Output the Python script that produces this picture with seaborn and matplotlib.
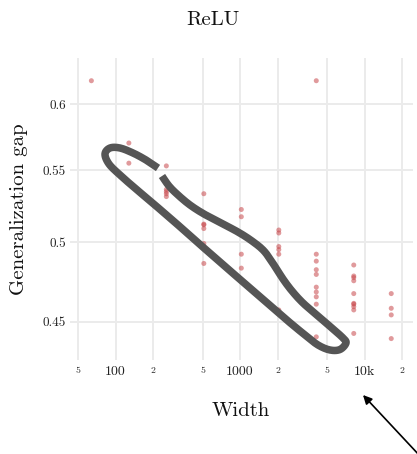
import numpy as np
import pandas as pd
import matplotlib
matplotlib.use("Agg")
import matplotlib.pyplot as plt
import matplotlib.ticker as mticker
import matplotlib.transforms as mtransforms
import seaborn as sns

# ---------------- data ----------------
width_levels = [64, 128, 256, 512, 1024, 2048, 4096, 8192, 16384]
gap_64 = [0.619]
gap_128 = [0.570, 0.555]
gap_256 = [0.553, 0.536, 0.5345, 0.533, 0.531, 0.519]
gap_512 = [0.533, 0.512, 0.5115, 0.509, 0.499, 0.486]
gap_1024 = [0.522, 0.517, 0.492, 0.483]
gap_2048 = [0.508, 0.506, 0.497, 0.495, 0.492, 0.457]
gap_4096 = [0.619, 0.492, 0.4875, 0.482, 0.479, 0.471, 0.468, 0.465, 0.4605, 0.441]
gap_8192 = [0.485, 0.478, 0.477, 0.475, 0.467, 0.461, 0.4605, 0.459, 0.457, 0.443]
gap_16384 = [0.467, 0.458, 0.454, 0.440]
gap_columns = [gap_64, gap_128, gap_256, gap_512, gap_1024, gap_2048,
               gap_4096, gap_8192, gap_16384]

x_major_ticks = [100, 1000, 10000]
x_major_labels = ["100", "1000", "10k"]
x_minor_ticks = [50, 200, 500, 2000, 5000, 20000]
x_minor_labels = ["5", "2", "5", "2", "5", "2"]
y_ticks = [0.45, 0.5, 0.55, 0.6]
y_labels = ["0.45", "0.5", "0.55", "0.6"]

title_text = "ReLU"
x_title = "Width"
y_title = "Generalization gap"

# hand-drawn annotation loop (figure pixel coordinates, origin top-left)
loop_px_x = [158, 146, 133, 120, 110, 105, 109, 120, 136, 152, 170, 186, 200,
             220, 243, 265, 288, 305, 318, 330, 340, 346, 343, 333, 318, 303,
             292, 283, 274, 264, 252, 238, 221, 204, 190, 178, 169, 162]
loop_px_y = [168, 160, 153, 148, 148, 154, 164, 175, 189, 202.5, 218, 232, 244.5,
             262, 282, 301, 321, 335, 345, 350, 349.5, 343, 338, 329, 316, 303,
             291, 279, 265, 251, 241, 232, 223, 214, 205, 195, 186, 176]

# ---------------- frame ----------------
rows = []
for w, gaps in zip(width_levels, gap_columns):
    for g in gaps:
        rows.append({"Width": w, "Gap": g})
df = pd.DataFrame(rows)

sns.set_theme(style="white")
plt.rcParams["font.family"] = ["cmr10", "DejaVu Serif"]
plt.rcParams["axes.unicode_minus"] = False

W, H = 417, 454
fig = plt.figure(figsize=(W / 100, H / 100), dpi=100)
fig.patch.set_facecolor("white")

ax_l, ax_r, ax_t, ax_b = 70, 413, 58, 360
ax = fig.add_axes([ax_l / W, 1 - ax_b / H, (ax_r - ax_l) / W, (ax_b - ax_t) / H])

sns.scatterplot(data=df, x="Width", y="Gap", ax=ax, color="#c8474b",
                alpha=0.55, s=13, edgecolor="none", linewidth=0, legend=False,
                zorder=3)

ax.set_xscale("log")
ax.set_yscale("log")
ax.set_xlim(43.1, 24500)
ax.set_ylim(0.4277, 0.6379)

ax.xaxis.set_major_locator(mticker.FixedLocator(x_major_ticks))
ax.xaxis.set_major_formatter(mticker.FixedFormatter(x_major_labels))
ax.xaxis.set_minor_locator(mticker.FixedLocator(x_minor_ticks))
ax.xaxis.set_minor_formatter(mticker.FixedFormatter(x_minor_labels))
ax.yaxis.set_major_locator(mticker.FixedLocator(y_ticks))
ax.yaxis.set_major_formatter(mticker.FixedFormatter(y_labels))
ax.yaxis.set_minor_locator(mticker.NullLocator())

ax.tick_params(axis="x", which="major", length=0, pad=4.5, labelsize=10,
               labelcolor="#222222")
ax.tick_params(axis="x", which="minor", length=0, pad=4.5, labelsize=7,
               labelcolor="#222222")
ax.tick_params(axis="y", which="major", length=0, pad=3, labelsize=9.5,
               labelcolor="#222222")

ax.grid(which="both", axis="x", color="#ebebeb", linewidth=1.4, zorder=0)
ax.grid(which="major", axis="y", color="#ebebeb", linewidth=1.4, zorder=0)
ax.set_axisbelow(True)
for sp in ax.spines.values():
    sp.set_visible(False)
ax.set_xlabel("")
ax.set_ylabel("")

fig.text(213 / W, 1 - 20 / H, title_text, ha="center", va="center",
         fontsize=15, color="#111111")
fig.text(241 / W, 1 - 411 / H, x_title, ha="center", va="center",
         fontsize=15, color="#111111")
fig.text(19 / W, 1 - 209 / H, y_title, ha="center", va="center",
         rotation=90, fontsize=15, color="#111111")


# smooth the hand-drawn loop (Catmull-Rom)
def catmull_rom(xs, ys, n=12):
    P = np.column_stack([xs, ys]).astype(float)
    P = np.vstack([P[0], P, P[-1]])
    out = []
    for i in range(1, len(P) - 2):
        p0, p1, p2, p3 = P[i - 1], P[i], P[i + 1], P[i + 2]
        for t in np.linspace(0, 1, n, endpoint=False):
            t2, t3 = t * t, t * t * t
            pt = 0.5 * ((2 * p1) + (-p0 + p2) * t +
                        (2 * p0 - 5 * p1 + 4 * p2 - p3) * t2 +
                        (-p0 + 3 * p1 - 3 * p2 + p3) * t3)
            out.append(pt)
    out.append(P[-2])
    out = np.array(out)
    return out[:, 0], out[:, 1]


lx, ly = catmull_rom(loop_px_x, loop_px_y)
px_trans = mtransforms.Affine2D().scale(1 / W, -1 / H).translate(0, 1) + fig.transFigure
loop_line = plt.Line2D(lx, ly, transform=px_trans, color="#555555", lw=5.4,
                       solid_capstyle="butt", solid_joinstyle="round", zorder=5)
fig.add_artist(loop_line)

# arrow at bottom right
fig.add_artist(matplotlib.patches.FancyArrowPatch(
    posA=(420 / W, 1 - 456 / H), posB=(363 / W, 1 - 395 / H),
    transform=fig.transFigure, arrowstyle="-|>", mutation_scale=13,
    color="black", lw=1.2, shrinkA=0, shrinkB=0))

fig.savefig("out.png", dpi=100, facecolor="white")
